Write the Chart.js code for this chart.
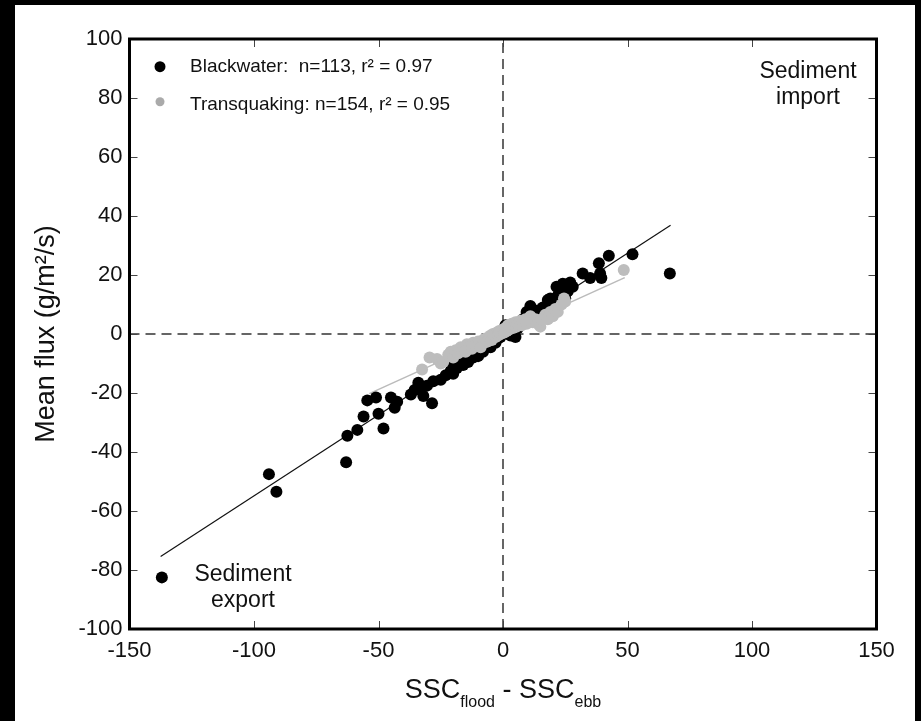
<!DOCTYPE html>
<html>
<head>
<meta charset="utf-8">
<script src="https://cdn.jsdelivr.net/npm/chart.js@4.4.1/dist/chart.umd.min.js"></script>
<style>
html, body { margin: 0; padding: 0; background: #000; }
#wrap { position: absolute; left: 15px; top: 5px; width: 900px; height: 716px; background: #fff; }
</style>
</head>
<body>
<div id="wrap"><canvas id="graph" width="900" height="716"></canvas></div>
<script>
// values
const blackwaterPoints = [
  [-137,-82.5], [-94,-47.5], [-91,-53.5], [-63,-43.5], [-62.5,-34.5], [-58.5,-32.5], [-56,-28],
  [-54.5,-22.5], [-51,-21.5], [-50,-27], [-48,-32], [-45,-21.5], [-43.5,-25], [-42.5,-23],
  [-37,-20.5], [-35.5,-19], [-34,-16.5], [-33,-18.5], [-32,-21], [-30.5,-17.5], [-28.5,-23.5],
  [-28,-16], [-25,-15.5], [-23,-14], [-21,-12.5], [-20.5,-11], [-20,-13.5], [-19,-10],
  [-18.5,-11.5], [-17,-9], [-16,-10.5], [-15.5,-8.5], [-14,-9.5], [-13,-7.5], [-12,-8],
  [-11,-6.5], [-10,-7.5], [-9,-5.5], [-8,-6], [-7,-4.5], [-6,-3.5], [-5,-4.5], [-4,-2.5],
  [-3,-3], [-2,-1.5], [-1,-1], [0.5,1.5], [1,3], [2,2.5], [3,-0.5], [4,1], [5,-1], [6,2],
  [7,3.5], [8,5], [9.5,7.5], [11,9.5], [12,6], [14,8], [16,9], [18,11.5], [19,12], [20,10],
  [21.5,16], [22,13], [23,14], [24,17], [25,12], [26,14.5], [27,17.5], [28,16], [32,20.5],
  [35,19], [39,20.5], [39.5,19], [38.5,24], [42.5,26.5], [52,27], [67,20.5]
];
const transquakingPoints = [
  [-32.5,-12], [-29.5,-8], [-26.5,-8.5], [-25,-10], [-24,-9.5], [-22,-7], [-21,-6], [-20,-8],
  [-19,-5.5], [-18,-6.5], [-17,-4.5], [-16,-5], [-15,-6], [-14.5,-3.5], [-13.5,-4.5],
  [-12.5,-5], [-12,-3], [-11,-4], [-10,-2.5], [-9.5,-3.5], [-9,-4.5], [-8,-2], [-7.5,-3],
  [-7,-1.5], [-6,-2.5], [-5.5,-1], [-5,-0.5], [-4.5,-2], [-4,0], [-3,-1], [-2.5,0.5],
  [-2,-0.5], [-1.5,1], [-1,0], [0,1.5], [0.5,0.5], [1,2], [1.5,1], [2,3], [2.5,1.5], [3,2.5],
  [3.5,3.5], [4,2], [4.5,3], [5,4], [5.5,2.5], [6,3.5], [7,4.5], [7.5,3], [8,4], [9,5],
  [9.5,3.5], [10.5,4.5], [11,6], [12,4], [13,5], [14,3.5], [15,2.5], [15.5,5], [17,6.5],
  [18,5], [19,7.5], [20,6], [21,8.5], [22,7.5], [23.5,10], [24.5,12], [25,11], [48.5,21.7]
];
const blackwaterFit = [[-137.5,-75.4], [67.3,36.9]];
const transquakingFit = [[-53.7,-20.2], [48.9,19.1]];
const zeroVertical = [[0,-100], [0,100]];
const zeroHorizontal = [[-150,0], [150,0]];
const xTicks = [-150, -100, -50, 0, 50, 100, 150];
const yTicks = [-100, -80, -60, -40, -20, 0, 20, 40, 60, 80, 100];
const seriesLabels = ['Blackwater:  n=113, r\u00b2 = 0.97', 'Transquaking: n=154, r\u00b2 = 0.95'];
const yTitle = 'Mean flux (g/m\u00b2/s)';

const FONT = '"Liberation Sans", Arial, sans-serif';
const toXY = arr => arr.map(p => ({ x: p[0], y: p[1] }));

const extras = {
  id: 'extras',
  afterDatasetsDraw(chart) {
    const { ctx, chartArea: a, scales: { x, y } } = chart;
    ctx.save();
    // inward ticks on all four sides
    ctx.strokeStyle = '#444';
    ctx.lineWidth = 1;
    ctx.beginPath();
    xTicks.forEach(v => {
      const px = Math.round(x.getPixelForValue(v)) + 0.5;
      ctx.moveTo(px, a.bottom); ctx.lineTo(px, a.bottom - 8);
      ctx.moveTo(px, a.top); ctx.lineTo(px, a.top + 8);
    });
    yTicks.forEach(v => {
      const py = Math.round(y.getPixelForValue(v)) + 0.5;
      ctx.moveTo(a.left, py); ctx.lineTo(a.left + 8, py);
      ctx.moveTo(a.right, py); ctx.lineTo(a.right - 8, py);
    });
    ctx.stroke();
    // frame
    ctx.strokeStyle = '#000';
    ctx.lineWidth = 3;
    ctx.strokeRect(a.left, a.top, a.right - a.left, a.bottom - a.top);

    // legend
    ctx.fillStyle = '#000';
    ctx.beginPath(); ctx.arc(145, 61.7, 5.5, 0, Math.PI * 2); ctx.fill();
    ctx.fillStyle = '#aaa';
    ctx.beginPath(); ctx.arc(145, 96.7, 4.5, 0, Math.PI * 2); ctx.fill();
    ctx.fillStyle = '#111';
    ctx.font = '19px ' + FONT;
    ctx.textAlign = 'left';
    ctx.textBaseline = 'alphabetic';
    ctx.fillText(seriesLabels[0], 175, 67);
    ctx.fillText(seriesLabels[1], 175, 105);

    // quadrant notes
    ctx.font = '23px ' + FONT;
    ctx.textAlign = 'center';
    ctx.fillText('Sediment', 793, 73);
    ctx.fillText('import', 793, 99);
    ctx.fillText('Sediment', 228, 576);
    ctx.fillText('export', 228, 602);

    // x axis title with subscripts
    const big = '27px ' + FONT, small = '16px ' + FONT;
    const parts = [['SSC', big, 0], ['flood', small, 9], [' - SSC', big, 0], ['ebb', small, 9]];
    let total = 0;
    parts.forEach(p => { ctx.font = p[1]; total += ctx.measureText(p[0]).width; });
    let cx = x.getPixelForValue(0) - total / 2;
    ctx.textAlign = 'left';
    parts.forEach(p => {
      ctx.font = p[1];
      ctx.fillText(p[0], cx, 693 + p[2]);
      cx += ctx.measureText(p[0]).width;
    });
    ctx.restore();
  }
};

const ctx = document.getElementById('graph').getContext('2d');
const chart = new Chart(ctx, {
  type: 'scatter',
  data: {
    datasets: [
      {
        label: 'Transquaking',
        data: toXY(transquakingPoints),
        backgroundColor: '#bdbdbd',
        borderWidth: 0,
        pointRadius: 6,
        order: 0
      },
      {
        label: 'Blackwater',
        data: toXY(blackwaterPoints),
        backgroundColor: '#000',
        borderWidth: 0,
        pointRadius: 6,
        order: 1
      },
      {
        label: 'Transquaking fit',
        data: toXY(transquakingFit),
        showLine: true,
        borderColor: '#bbb',
        borderWidth: 1.5,
        pointRadius: 0,
        order: 2
      },
      {
        label: 'Blackwater fit',
        data: toXY(blackwaterFit),
        showLine: true,
        borderColor: '#111',
        borderWidth: 1.2,
        pointRadius: 0,
        order: 3
      },
      {
        label: 'zero x',
        data: toXY(zeroVertical),
        showLine: true,
        borderColor: '#333',
        borderWidth: 1.5,
        borderDash: [10, 6],
        pointRadius: 0,
        order: 4
      },
      {
        label: 'zero y',
        data: toXY(zeroHorizontal),
        showLine: true,
        borderColor: '#333',
        borderWidth: 1.5,
        borderDash: [10, 6],
        pointRadius: 0,
        order: 5
      }
    ]
  },
  options: {
    responsive: false,
    animation: false,
    devicePixelRatio: 1,
    layout: { padding: { top: 34, right: 38.5, left: 0, bottom: 0 } },
    plugins: {
      legend: { display: false },
      tooltip: { enabled: false }
    },
    scales: {
      x: {
        type: 'linear',
        min: -150,
        max: 150,
        grid: { display: false, drawTicks: false },
        border: { display: false },
        ticks: {
          stepSize: 50,
          padding: 9,
          color: '#111',
          font: { family: FONT, size: 22 }
        },
        afterFit: s => { s.height = 92; }
      },
      y: {
        type: 'linear',
        min: -100,
        max: 100,
        grid: { display: false, drawTicks: false },
        border: { display: false },
        ticks: {
          stepSize: 20,
          padding: 7,
          color: '#111',
          font: { family: FONT, size: 22 }
        },
        title: {
          display: true,
          text: yTitle,
          color: '#111',
          font: { family: FONT, size: 27 },
          padding: { top: 15, bottom: 0 }
        },
        afterFit: s => { s.width = 114.5; }
      }
    }
  },
  plugins: [extras]
});
</script>
</body>
</html>
